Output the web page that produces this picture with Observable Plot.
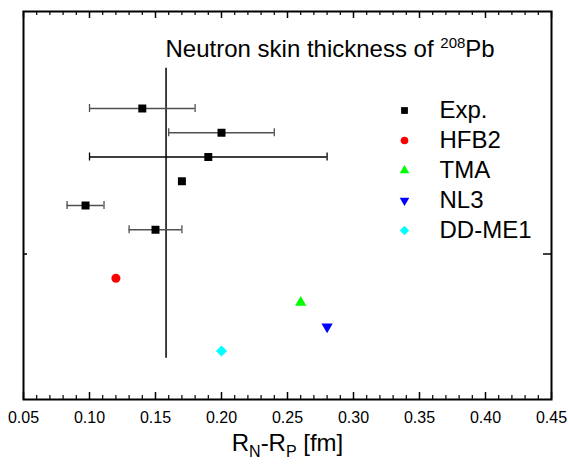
<!DOCTYPE html>
<html><head><meta charset="utf-8">
<script src="https://cdn.jsdelivr.net/npm/d3@7"></script>
<script src="https://cdn.jsdelivr.net/npm/@observablehq/plot@0.6"></script>
<style>body{margin:0;background:#fff} svg{display:block}</style>
</head><body><div id="chart"></div>
<script>
// ---- data ----
const expValue = [0.14, 0.20, 0.19, 0.17, 0.097, 0.15];
const expError = [0.04, 0.04, 0.09, 0, 0.014, 0.02];
const expRow   = [6, 5.5, 5, 4.5, 4, 3.5];
const modelNames = ["HFB2", "TMA", "NL3", "DD-ME1"];
const modelValue = [0.12, 0.26, 0.28, 0.20];
const modelRow   = [2.5, 2, 1.5, 1];
const legendLabels = ["Exp.", "HFB2", "TMA", "NL3", "DD-ME1"];
const xTickValues = [0.05, 0.10, 0.15, 0.20, 0.25, 0.30, 0.35, 0.40, 0.45];
const yTickValues = [3];
const referenceX = [0.158];
const referenceSpan = [0.85, 6.83];
const titleParts = ["Neutron skin thickness of ", "208", "Pb"];
const xLabelParts = ["R", "N", "-R", "P", " [fm]"];

// ---- styles ----
const W = 568, H = 464;
const M = {top: 11, right: 17, bottom: 65, left: 23};
const innerW = W - M.left - M.right, innerH = H - M.top - M.bottom;
const FONT = "'Liberation Sans', Arial, Helvetica, sans-serif";
const triangleDown = {
  draw(ctx, size) {
    const y = -Math.sqrt(size / (3 * Math.sqrt(3)));
    ctx.moveTo(0, -2 * y);
    ctx.lineTo(-Math.sqrt(3) * y, y);
    ctx.lineTo(Math.sqrt(3) * y, y);
    ctx.closePath();
  }
};
const seriesStyle = {
  "Exp.":   {symbol: "square",   fill: "#000000", r: 4.5},
  "HFB2":   {symbol: "circle",   fill: "#ff0000", r: 4.5},
  "TMA":    {symbol: "triangle", fill: "#00ff00", r: 4.2},
  "NL3":    {symbol: triangleDown, fill: "#0000ff", r: 4.2},
  "DD-ME1": {symbol: "diamond2", fill: "#00ffff", r: 5}
};

const exp = expValue.map((v, i) => ({x: v, err: expError[i], y: expRow[i], i}));
const bars = exp.filter(d => d.err > 0);
const caps = bars.flatMap(d => [{x: d.x - d.err, y: d.y, i: d.i}, {x: d.x + d.err, y: d.y, i: d.i}]);
const models = modelNames.map((n, i) => ({name: n, x: modelValue[i], y: modelRow[i]}));
const barColor = d => d.i === 2 ? "#000000" : "#505050";
const minorTicks = d3.range(5, 46).map(d => d / 100).filter(d => Math.round(d * 100) % 5 !== 0);
const capHalf = 4 / (innerH / 8);
const textBase = {fill: "black", fontSize: 24, lineAnchor: "middle", text: d => d};

const marks = [
  Plot.frame({stroke: "black", strokeWidth: 2}),
  Plot.tickX(xTickValues, {x: d => d, insetTop: innerH - 7, strokeWidth: 1.5}),
  Plot.tickX(xTickValues, {x: d => d, insetBottom: innerH - 7, strokeWidth: 1.5}),
  Plot.tickX(minorTicks, {x: d => d, insetTop: innerH - 4, strokeWidth: 1.2}),
  Plot.tickX(minorTicks, {x: d => d, insetBottom: innerH - 4, strokeWidth: 1.2}),
  Plot.tickY(yTickValues, {y: d => d, insetRight: innerW - 4, strokeWidth: 1.5}),
  Plot.tickY(yTickValues, {y: d => d, insetLeft: innerW - 8, strokeWidth: 1.5}),
  Plot.axisX(xTickValues, {tickSize: 0, tickPadding: 12, tickFormat: d3.format(".2f"), fontSize: 16, label: null}),
  Plot.ruleX(referenceX, {x: d => d, y1: referenceSpan[0], y2: referenceSpan[1], stroke: "black", strokeWidth: 1.5}),
  Plot.ruleY(bars, {y: "y", x1: d => d.x - d.err, x2: d => d.x + d.err, stroke: barColor, strokeWidth: 1.3}),
  Plot.ruleX(caps, {x: "x", y1: d => d.y - capHalf, y2: d => d.y + capHalf, stroke: barColor, strokeWidth: 1.3}),
  Plot.dot(exp, {x: "x", y: "y", ...seriesStyle["Exp."], stroke: null}),
  ...models.map(m => Plot.dot([m], {x: "x", y: "y", ...seriesStyle[m.name], stroke: null})),
  ...legendLabels.map((l, i) => Plot.dot([l], {frameAnchor: "top-left", dx: 381, dy: 99 + 30 * i,
      symbol: seriesStyle[l].symbol, fill: seriesStyle[l].fill, r: seriesStyle[l].r * 0.85, stroke: null})),
  ...legendLabels.map((l, i) => Plot.text([l], {...textBase, frameAnchor: "top-left", dx: 416, dy: 99 + 30 * i,
      textAnchor: "start"})),
  Plot.text([titleParts.join("")], {...textBase, frameAnchor: "top-left", dx: 142, dy: 38, textAnchor: "start"}),
  Plot.text([xLabelParts.join("")], {...textBase, frameAnchor: "bottom", dy: 44, textAnchor: "middle"})
];

const svg = Plot.plot({
  width: W, height: H,
  marginTop: M.top, marginRight: M.right, marginBottom: M.bottom, marginLeft: M.left,
  style: {fontFamily: FONT, background: "white", color: "black"},
  x: {domain: [0.05, 0.45]},
  y: {domain: [0, 8], axis: null},
  marks
});

function rich(textEl, segs) {
  textEl.textContent = "";
  let off = 0;
  for (const s of segs) {
    const t = document.createElementNS("http://www.w3.org/2000/svg", "tspan");
    t.textContent = s.t;
    const target = s.shift || 0;
    if (target !== off) { t.setAttribute("dy", target - off); off = target; }
    if (s.size) t.setAttribute("font-size", s.size);
    textEl.appendChild(t);
  }
}
svg.querySelectorAll("text").forEach(el => {
  if (el.textContent === titleParts.join("")) {
    rich(el, [{t: titleParts[0]}, {t: titleParts[1], shift: -9, size: 15}, {t: titleParts[2], shift: 0}]);
  } else if (el.textContent === xLabelParts.join("")) {
    rich(el, [{t: xLabelParts[0]}, {t: xLabelParts[1], shift: 6, size: 16}, {t: xLabelParts[2], shift: 0},
              {t: xLabelParts[3], shift: 6, size: 16}, {t: xLabelParts[4], shift: 0}]);
  }
});
document.getElementById("chart").appendChild(svg);
</script>
</body></html>
